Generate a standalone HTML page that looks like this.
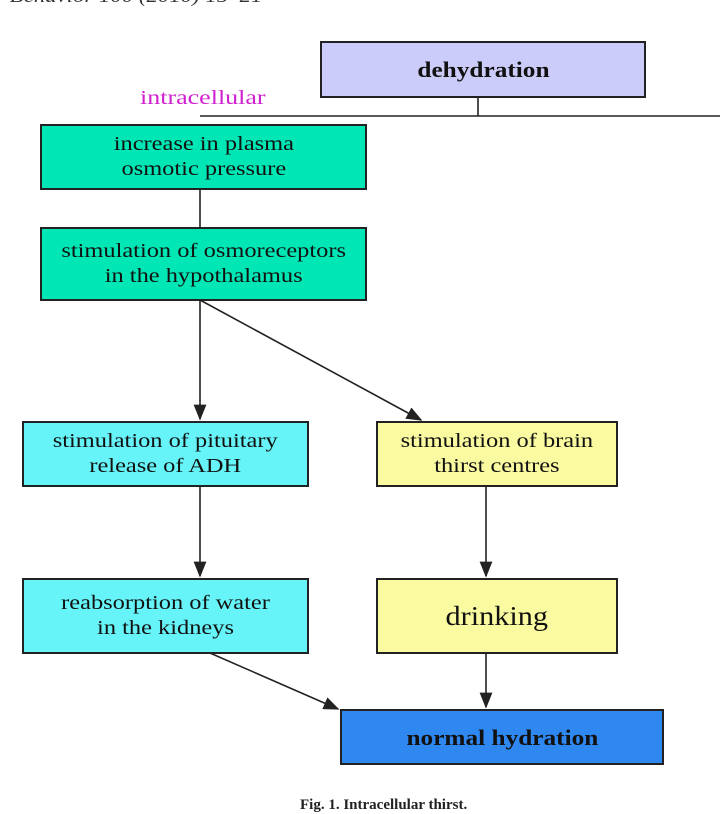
<!DOCTYPE html>
<html><head><style>
body{margin:0;width:720px;height:804px;overflow:hidden;background:#fff;position:relative;font-family:"Liberation Serif",serif}
.b{position:absolute;border:2px solid #222;box-sizing:border-box;display:flex;align-items:center;justify-content:center;text-align:center;font-size:20px;line-height:25px;color:#111}
.b span{display:inline-block;transform:scaleX(1.22)}
svg{position:absolute;left:0;top:0}
</style></head><body>
<div style="position:absolute;left:-4px;top:-14px;font-style:italic;font-size:19px;color:#333;transform:scaleX(1.2);transform-origin:left">▪ Behavior 100 (2010) 15–21</div>
<svg width="720" height="804">
<defs><marker id="a" markerWidth="10" markerHeight="8" refX="9" refY="4" orient="auto"><path d="M0,0L10,4L0,8z" fill="#222"/></marker></defs>
<g stroke="#222" stroke-width="1.6" fill="none">
<path d="M478 97V116M200 116H720M200 189V227"/>
<path d="M200 300V419" marker-end="url(#a)"/>
<path d="M200 300L421 420" marker-end="url(#a)"/>
<path d="M200 486V576" marker-end="url(#a)"/>
<path d="M486 486V576" marker-end="url(#a)"/>
<path d="M210 653L338 709" marker-end="url(#a)"/>
<path d="M486 653V707" marker-end="url(#a)"/>
</g></svg>
<div class="b" style="left:320px;top:41px;width:326px;height:57px;background:#ccccfa;font-weight:bold;font-size:22px"><span style="transform:scaleX(1.15)">dehydration</span></div>
<div style="position:absolute;left:140px;top:87px;font-size:20px;color:#d020d0;transform:scaleX(1.3);transform-origin:left">intracellular</div>
<div class="b" style="left:40px;top:124px;width:327px;height:66px;background:#00e6b4"><span>increase in plasma<br>osmotic pressure</span></div>
<div class="b" style="left:40px;top:227px;width:327px;height:74px;background:#00e6b4"><span>stimulation of osmoreceptors<br>in the hypothalamus</span></div>
<div class="b" style="left:22px;top:421px;width:287px;height:66px;background:#66f4f8"><span>stimulation of pituitary<br>release of ADH</span></div>
<div class="b" style="left:376px;top:421px;width:242px;height:66px;background:#fafaa0"><span>stimulation of brain<br>thirst centres</span></div>
<div class="b" style="left:22px;top:578px;width:287px;height:76px;background:#66f4f8"><span>reabsorption of water<br>in the kidneys</span></div>
<div class="b" style="left:376px;top:578px;width:242px;height:76px;background:#fafaa0;font-size:27px"><span style="transform:scaleX(1.12)">drinking</span></div>
<div class="b" style="left:340px;top:709px;width:324px;height:56px;background:#2f88f0;font-weight:bold;font-size:22px"><span style="transform:scaleX(1.15)">normal hydration</span></div>
<div style="position:absolute;left:300px;top:797px;font-size:15px;font-weight:bold;color:#222">Fig. 1. Intracellular thirst.</div>
</body></html>
